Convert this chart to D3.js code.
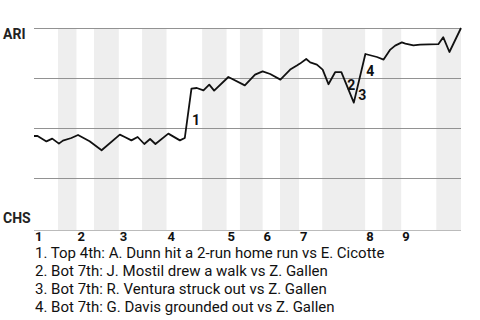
<!DOCTYPE html>
<html>
<head>
<meta charset="utf-8">
<script src="https://cdn.jsdelivr.net/npm/d3@7"></script>
<style>
  body { margin: 0; background: #fff; }
  svg { display: block; font-family: Roboto, "Noto Sans", sans-serif; }
</style>
</head>
<body>
<svg id="chart" width="480" height="320"></svg>
<script>
// Win probability (1 = ARI wins, 0 = CHS wins)
const plays = [0, 0.8, 2.8, 4.1, 5.6, 6.5, 8.4, 9.9, 12.5, 15.2, 19.3, 20.4, 21.9, 23.3, 24.8, 26.1, 27.3, 30.2, 32.8, 33.9,
  35.4, 36.6, 38.1, 39.4, 40.5, 43.7, 47.4, 49.7, 51.4, 53.1, 55.4, 57.6, 59.1, 59.8, 61.2, 62.1, 63.6, 64.9, 66.2, 67.7,
  69.1, 71.9, 74.5, 77.1, 78.6, 80.1, 81.2, 82.7, 83.5, 85.3, 86.8, 90.9, 92.0, 93.4, 96];
const ariWinProb = [0.46, 0.46, 0.433, 0.447, 0.422, 0.437, 0.45, 0.465, 0.434, 0.389, 0.467, 0.455, 0.438, 0.455, 0.42, 0.445, 0.42, 0.472, 0.438, 0.45,
  0.697, 0.70, 0.688, 0.717, 0.687, 0.755, 0.713, 0.767, 0.783, 0.77, 0.742, 0.792, 0.812, 0.822, 0.845, 0.828, 0.817, 0.792, 0.719, 0.779,
  0.779, 0.627, 0.87, 0.855, 0.842, 0.892, 0.912, 0.928, 0.922, 0.913, 0.917, 0.919, 0.954, 0.88, 1.0];

// half-inning start positions (top 1st, bot 1st, top 2nd, ...) and game end
const halfStarts = [0, 5.4, 9.55, 13.5, 19.07, 24.3, 29.8, 37.8, 43.3, 46.3, 51.4, 55.3, 59.6, 64.8, 74.45, 78.3, 82.55, 90.45];
const gameEnd = 96;
const inningLabels = ["1", "2", "3", "4", "5", "6", "7", "8", "9"];

// key plays
const notePlays = [35.5, 70.4, 72.9, 74.7];
const noteProbs = [0.517, 0.69, 0.64, 0.76];
const noteLabels = ["1", "2", "3", "4"];
const noteTexts = [
  "1. Top 4th: A. Dunn hit a 2-run home run vs E. Cicotte",
  "2. Bot 7th: J. Mostil drew a walk vs Z. Gallen",
  "3. Bot 7th: R. Ventura struck out vs Z. Gallen",
  "4. Bot 7th: G. Davis grounded out vs Z. Gallen"
];
const teams = ["ARI", "CHS"];

const margin = { top: 28, left: 34 };
const width = 427, height = 200;

const svg = d3.select("#chart");
const g = svg.append("g").attr("transform", `translate(${margin.left},${margin.top})`);

const x = d3.scaleLinear().domain([0, gameEnd]).range([0, width]);
const y = d3.scaleLinear().domain([0, 1]).range([height, 0]);

// shaded bottom halves
const halves = halfStarts.map((s, i) => ({ start: s, end: i < halfStarts.length - 1 ? halfStarts[i + 1] : gameEnd, bottom: i % 2 === 1 }));
g.selectAll("rect.half")
  .data(halves.filter(d => d.bottom))
  .join("rect")
  .attr("class", "half")
  .attr("x", d => x(d.start))
  .attr("width", d => x(d.end) - x(d.start))
  .attr("y", 0)
  .attr("height", height + 2)
  .attr("fill", "#eeeeee");

// gridlines
g.selectAll("line.grid")
  .data([0.25, 0.5, 0.75, 1])
  .join("line")
  .attr("class", "grid")
  .attr("x1", 0).attr("x2", width)
  .attr("y1", d => Math.round(y(d)) + 0.5)
  .attr("y2", d => Math.round(y(d)) + 0.5)
  .attr("stroke", "#929292")
  .attr("stroke-width", 1);

// bottom axis line
g.append("line")
  .attr("x1", 0).attr("x2", width)
  .attr("y1", height + 2.5).attr("y2", height + 2.5)
  .attr("stroke", "#bbb");

// inning labels
g.selectAll("text.inning")
  .data(inningLabels)
  .join("text")
  .attr("class", "inning")
  .attr("x", (d, i) => x(halfStarts[i * 2]) + 1)
  .attr("y", height + 13)
  .attr("font-size", 13)
  .attr("font-weight", "bold")
  .attr("fill", "#111")
  .text(d => d);

// win probability line
const line = d3.line()
  .x(d => x(d[0]))
  .y(d => y(d[1]));

g.append("path")
  .datum(plays.map((p, i) => [p, ariWinProb[i]]))
  .attr("d", line)
  .attr("fill", "none")
  .attr("stroke", "#111")
  .attr("stroke-width", 1.8)
  .attr("stroke-linejoin", "round");

// markers for key plays
g.selectAll("text.note")
  .data(noteLabels)
  .join("text")
  .attr("class", "note")
  .attr("x", (d, i) => x(notePlays[i]))
  .attr("y", (d, i) => y(noteProbs[i]))
  .attr("font-size", 14)
  .attr("font-weight", "bold")
  .attr("fill", "#111")
  .text(d => d);

// team labels
svg.append("text")
  .attr("x", 3).attr("y", 39)
  .attr("font-size", 14).attr("font-weight", "bold").attr("fill", "#222")
  .text(teams[0]);
svg.append("text")
  .attr("x", 3).attr("y", 223)
  .attr("font-size", 14).attr("font-weight", "bold").attr("fill", "#222")
  .text(teams[1]);

// notes under the chart
svg.selectAll("text.desc")
  .data(noteTexts)
  .join("text")
  .attr("class", "desc")
  .attr("x", 35)
  .attr("y", (d, i) => 258 + i * 18)
  .attr("font-size", 15)
  .attr("fill", "#111")
  .text(d => d);
</script>
</body>
</html>
